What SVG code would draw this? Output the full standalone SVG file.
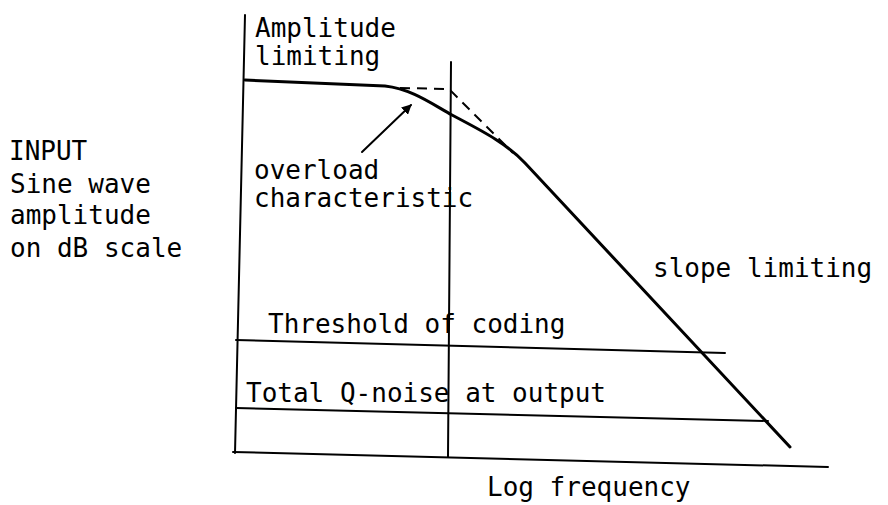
<svg xmlns="http://www.w3.org/2000/svg" width="888" height="505" viewBox="0 0 888 505">
  <style>
    .ln { fill: none; stroke: #000; stroke-width: 2; stroke-linecap: round; }
    .curve { fill: none; stroke: #000; stroke-width: 3; stroke-linejoin: round; stroke-linecap: round; }
    .dash { fill: none; stroke: #000; stroke-width: 2; stroke-dasharray: 10 7; }
    .lbl { font-family: "DejaVu Sans Mono", "Liberation Mono", monospace; font-size: 26px; fill: #000; }
  </style>
  <defs>
    <marker id="head" viewBox="0 0 10 10" refX="9" refY="5" markerWidth="5" markerHeight="5" orient="auto">
      <path d="M0,0 L10,5 L0,10 z" fill="#000"/>
    </marker>
  </defs>

  <!-- axes, limits and characteristic lines -->
  <g id="connectors">
    <path id="y-axis" class="ln" d="M245,15 L235,453"/>
    <path id="x-axis" class="ln" d="M233,452 L828,467"/>
    <path id="cutoff" class="ln" d="M451,62 L448,457"/>
    <path id="threshold-line" class="ln" d="M236,340 L725,353"/>
    <path id="qnoise-line" class="ln" d="M236,408 L768,421"/>
    <path id="overload-curve" class="curve" d="M245,80 L385,86 C412,89 432,104 452,115 C480,130 505,142 525,163 L790,447"/>
    <path id="asymptote" class="dash" d="M400,88 L449,89 L513,153"/>
    <path id="pointer" class="ln" d="M362,152 L411,105" marker-end="url(#head)"/>
  </g>

  <g id="amplitude-label">
    <text class="lbl" x="255" y="37">Amplitude</text>
    <text class="lbl" x="255" y="65">limiting</text>
  </g>
  <g id="overload-label">
    <text class="lbl" x="254" y="179">overload</text>
    <text class="lbl" x="254" y="207">characteristic</text>
  </g>
  <g id="input-label">
    <text class="lbl" x="9" y="160">INPUT</text>
    <text class="lbl" x="10" y="193">Sine wave</text>
    <text class="lbl" x="10" y="224">amplitude</text>
    <text class="lbl" x="10" y="257">on dB scale</text>
  </g>
  <g id="slope-label">
    <text class="lbl" x="653" y="277">slope limiting</text>
  </g>
  <g id="threshold-label">
    <text class="lbl" x="268" y="333">Threshold of coding</text>
  </g>
  <g id="qnoise-label">
    <text class="lbl" x="246" y="402">Total Q-noise at output</text>
  </g>
  <g id="frequency-label">
    <text class="lbl" x="487" y="496">Log frequency</text>
  </g>
</svg>
